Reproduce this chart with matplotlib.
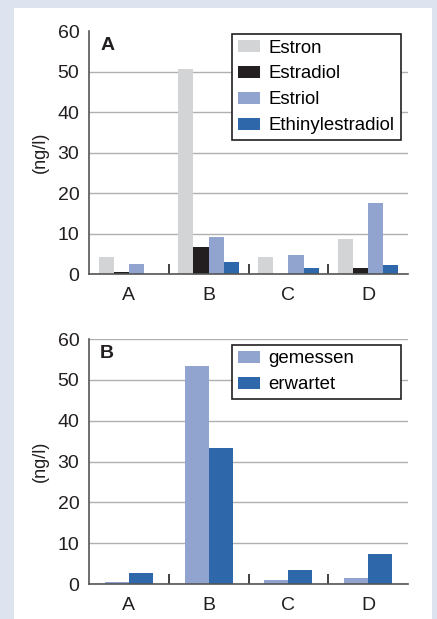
import numpy as np
import matplotlib.pyplot as plt
from matplotlib.patches import Rectangle

plt.rcParams['font.family'] = ['Liberation Sans', 'DejaVu Sans']

# Daten
orte = ['A', 'B', 'C', 'D']
estron = [4.3, 50.5, 4.3, 8.7]
estradiol = [0.5, 6.6, 0.0, 1.4]
estriol = [2.6, 9.1, 4.7, 17.6]
ethinyl = [0.0, 3.0, 1.4, 2.2]

gemessen = [0.6, 53.3, 1.0, 1.5]
erwartet = [2.6, 33.3, 3.4, 7.4]

farbe_hg = '#dde4f0'
farben_a = ['#d3d4d6', '#231f20', '#91a3cf', '#2e67aa']
farben_b = ['#91a3cf', '#2e67aa']


def achse_stil(ax, buchstabe):
	ax.set_xlim(-0.5, 3.5)
	ax.set_ylim(0, 60)
	ax.set_yticks(range(0, 61, 10))
	ax.set_xticks(range(len(orte)))
	ax.set_xticklabels(orte)
	ax.set_xticks([0.5, 1.5, 2.5], minor=True)
	ax.tick_params(axis='x', which='major', length=0, pad=9, labelsize=14, colors='#231f20')
	ax.tick_params(axis='x', which='minor', direction='in', length=7, width=1.2, color='#231f20')
	ax.tick_params(axis='y', length=0, pad=7, labelsize=14, colors='#231f20')
	ax.yaxis.grid(True, color='#b0b0b0', linewidth=1)
	ax.set_axisbelow(True)
	for s in ['top', 'right']:
		ax.spines[s].set_visible(False)
	for s in ['left', 'bottom']:
		ax.spines[s].set_color('#555555')
		ax.spines[s].set_linewidth(1.2)
	ax.set_ylabel('(ng/l)', fontsize=13, color='#231f20', labelpad=6)
	ax.text(0.035, 0.975, buchstabe, transform=ax.transAxes, fontsize=14,
		fontweight='bold', va='top', ha='left', color='#231f20')


def legende(ax, y0, h):
	leg = ax.legend(loc='upper left', bbox_to_anchor=(0.448, y0, 0.530, h), mode='expand',
		borderaxespad=0, fontsize=13.4, fancybox=False, framealpha=1, edgecolor='#231f20',
		handlelength=1.2, handleheight=0.65, handletextpad=0.45, labelspacing=0.48,
		borderpad=0.3)
	leg.get_frame().set_linewidth(1.2)


fig = plt.figure(figsize=(4.37, 6.19), dpi=100)
fig.patch.set_facecolor(farbe_hg)
fig.patches.append(Rectangle((14 / 437, 0), (432 - 14) / 437, 1 - 8 / 619,
	transform=fig.transFigure, facecolor='white', edgecolor='none', zorder=-10))

x = np.arange(len(orte))

# Teil A
ax1 = fig.add_axes([0.2037, 0.5573, 0.730, 0.3926])
ax1.set_facecolor('none')
w = 0.19
reihen = [('Estron', estron), ('Estradiol', estradiol), ('Estriol', estriol),
	('Ethinylestradiol', ethinyl)]
for i, (name, werte) in enumerate(reihen):
	ax1.bar(x + (i - 1.5) * w, werte, w, color=farben_a[i], label=name)
achse_stil(ax1, 'A')
ax1.yaxis.get_gridlines()[-1].set_visible(False)
legende(ax1, 0.0, 0.988)

# Teil B
ax2 = fig.add_axes([0.2037, 0.0565, 0.730, 0.3958])
ax2.set_facecolor('none')
w = 0.3
ax2.bar(x - w / 2, gemessen, w, color=farben_b[0], label='gemessen')
ax2.bar(x + w / 2, erwartet, w, color=farben_b[1], label='erwartet')
achse_stil(ax2, 'B')
legende(ax2, 0.0, 0.976)

fig.savefig('out.png', dpi=100, facecolor=fig.get_facecolor())
